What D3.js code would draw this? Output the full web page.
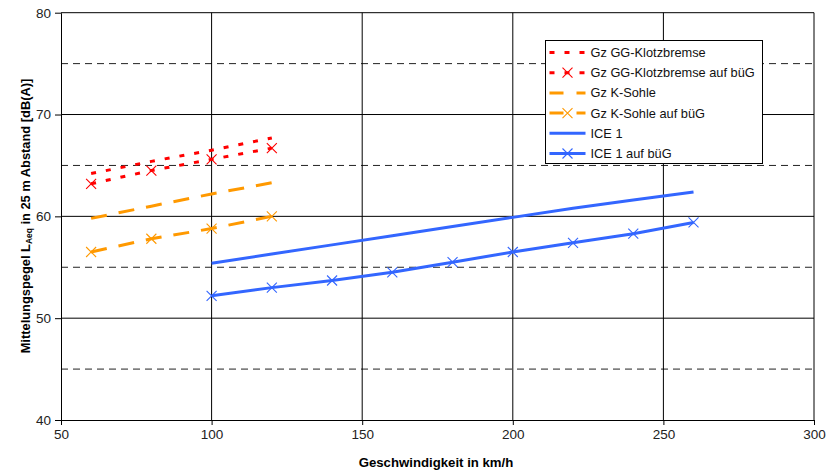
<!DOCTYPE html>
<html>
<head>
<meta charset="utf-8">
<script src="https://cdn.jsdelivr.net/npm/d3@7"></script>
<style>
  body { margin: 0; background: #fff; }
  svg { display: block; font-family: "Liberation Sans", Arial, sans-serif; }
</style>
</head>
<body>
<svg id="chart"></svg>
<script>
// speeds (km/h)
const speedsFreight = [60, 80, 100, 120];
const speedsIce = [100, 120, 140, 160, 180, 200, 220, 240, 260];

// levels in dB(A)
const ggKlotz = [64.2, 65.4, 66.5, 67.7];
const ggKlotzBueg = [63.2, 64.5, 65.6, 66.7];
const kSohle = [59.8, 61.0, 62.2, 63.3];
const kSohleBueg = [56.5, 57.8, 58.8, 60.0];
const ice1 = [55.4, 56.3, 57.2, 58.1, 59.0, 59.9, 60.8, 61.6, 62.4];
const ice1Bueg = [52.2, 53.0, 53.7, 54.5, 55.5, 56.5, 57.4, 58.3, 59.4];

const xTicks = [50, 100, 150, 200, 250, 300];
const yTicks = [40, 50, 60, 70, 80];
const yDashed = [45, 55, 65, 75];

const series = [
  { name: "Gz GG-Klotzbremse", x: speedsFreight, y: ggKlotz, color: "#ff0000", dash: "5,10", legDash: "5,10", marker: false },
  { name: "Gz GG-Klotzbremse auf büG", x: speedsFreight, y: ggKlotzBueg, color: "#ff0000", dash: "5,10", legDash: "5,10", marker: true },
  { name: "Gz K-Sohle", x: speedsFreight, y: kSohle, color: "#ff9900", dash: "16,12", legDash: "14,13", marker: false },
  { name: "Gz K-Sohle auf büG", x: speedsFreight, y: kSohleBueg, color: "#ff9900", dash: "16,12", legDash: "14,13", marker: true },
  { name: "ICE 1", x: speedsIce, y: ice1, color: "#3366ff", dash: null, legDash: null, marker: false },
  { name: "ICE 1 auf büG", x: speedsIce, y: ice1Bueg, color: "#3366ff", dash: null, legDash: null, marker: true }
];

const W = 826, H = 475;
const margin = { top: 12.7, left: 61 };
const width = 814 - margin.left;
const height = 420 - margin.top;

const svg = d3.select("#chart").attr("width", W).attr("height", H);
const g = svg.append("g").attr("transform", `translate(${margin.left},${margin.top})`);

const x = d3.scaleLinear().domain([50, 300]).range([0, width]);
const y = d3.scaleLinear().domain([40, 80]).range([height, 0]);

// dashed minor grid
g.selectAll(".dgrid").data(yDashed).enter().append("line")
  .attr("x1", 0).attr("x2", width)
  .attr("y1", d => y(d)).attr("y2", d => y(d))
  .attr("stroke", "#222").attr("stroke-width", 1)
  .attr("stroke-dasharray", "7,5");

// solid grid
g.selectAll(".hgrid").data(yTicks.filter(d => d > 40)).enter().append("line")
  .attr("x1", 0).attr("x2", width)
  .attr("y1", d => y(d)).attr("y2", d => y(d))
  .attr("stroke", "#000").attr("stroke-width", 1);
g.selectAll(".vgrid").data(xTicks.filter(d => d > 50)).enter().append("line")
  .attr("y1", 0).attr("y2", height)
  .attr("x1", d => x(d)).attr("x2", d => x(d))
  .attr("stroke", "#000").attr("stroke-width", 1);

// axes
const yAxis = g.append("g").call(d3.axisLeft(y).tickValues(yTicks).tickSize(6).tickSizeOuter(0));
const xAxis = g.append("g").attr("transform", `translate(0,${height})`)
  .call(d3.axisBottom(x).tickValues(xTicks).tickSize(5).tickSizeOuter(0));
[yAxis, xAxis].forEach(a => {
  a.select(".domain").attr("stroke", "#000");
  a.selectAll(".tick line").attr("stroke", "#000");
  a.selectAll(".tick text").attr("font-size", 13.5).attr("fill", "#222")
    .attr("font-family", "'Liberation Sans', Arial, sans-serif");
});
yAxis.selectAll(".tick text").attr("x", -10);
xAxis.selectAll(".tick text").attr("y", 9);

// series
const line = d3.line().x(d => x(d[0])).y(d => y(d[1]));

function drawX(sel, cx, cy, color, r) {
  sel.append("path")
    .attr("d", `M${cx - r},${cy - r}L${cx + r},${cy + r}M${cx - r},${cy + r}L${cx + r},${cy - r}`)
    .attr("stroke", color).attr("stroke-width", 1.1).attr("fill", "none");
}

series.forEach(s => {
  const pts = s.x.map((v, i) => [v, s.y[i]]);
  g.append("path").datum(pts)
    .attr("d", line)
    .attr("fill", "none")
    .attr("stroke", s.color)
    .attr("stroke-width", 3)
    .attr("stroke-dasharray", s.dash);
  if (s.marker) {
    pts.forEach(p => drawX(g, x(p[0]), y(p[1]), s.color, 5));
  }
});

// legend
const legend = svg.append("g").attr("transform", "translate(545.5,40.5)");
legend.append("rect").attr("width", 217).attr("height", 123)
  .attr("fill", "#fff").attr("stroke", "#000").attr("stroke-width", 1);
series.forEach((s, i) => {
  const ly = 12 + i * 20.2;
  const it = legend.append("g");
  it.append("line").attr("x1", 4).attr("x2", 40).attr("y1", ly).attr("y2", ly)
    .attr("stroke", s.color).attr("stroke-width", 3)
    .attr("stroke-dasharray", s.legDash);
  if (s.marker) drawX(it, 22, ly, s.color, 5);
  it.append("text").attr("x", 45).attr("y", ly).attr("dy", "0.35em")
    .attr("font-size", 12.8).attr("fill", "#111").text(s.name);
});

// axis titles
svg.append("text")
  .attr("x", 436).attr("y", 467)
  .attr("text-anchor", "middle").attr("font-size", 13.2).attr("font-weight", "bold")
  .text("Geschwindigkeit in km/h");

const yt = svg.append("text")
  .attr("text-anchor", "middle").attr("font-size", 13).attr("font-weight", "bold");
yt.append("tspan").text("Mittelungspegel L");
yt.append("tspan").attr("font-size", 8.5).attr("dy", 2).text("Aeq");
yt.append("tspan").attr("dy", -2).text(" in 25 m Abstand [dB(A)]");
// the reference title is set in a condensed face: squeeze it to its length
const ytLen = yt.node().getBBox().width;
yt.attr("transform", `translate(30,216) rotate(-90) scale(${275 / ytLen},1)`);
</script>
</body>
</html>
